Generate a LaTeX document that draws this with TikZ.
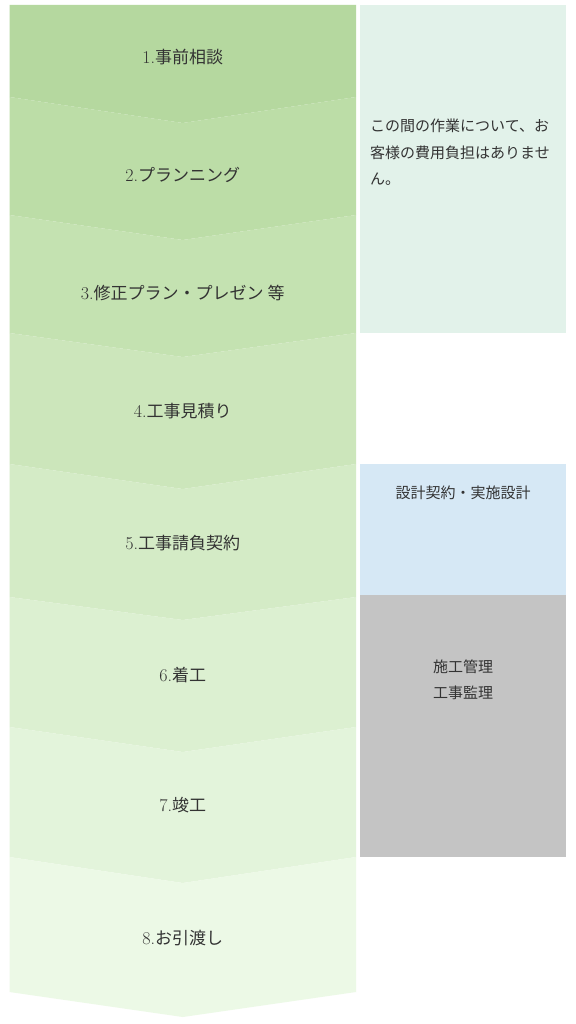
\documentclass[tikz,border=0pt]{standalone}
\usepackage{fontspec}
\newfontfamily\cjk{Noto Sans CJK JP}
\definecolor{txt}{HTML}{333333}
\definecolor{b1}{HTML}{B5D89F}
\definecolor{b2}{HTML}{BCDDA7}
\definecolor{b3}{HTML}{C4E2B1}
\definecolor{b4}{HTML}{CCE6BB}
\definecolor{b5}{HTML}{D4EBC6}
\definecolor{b6}{HTML}{DCF0D1}
\definecolor{b7}{HTML}{E3F4DB}
\definecolor{b8}{HTML}{ECF9E6}
\definecolor{p1}{HTML}{E2F2EA}
\definecolor{p2}{HTML}{D6E8F5}
\definecolor{p3}{HTML}{C4C4C4}
\begin{document}
\begin{tikzpicture}[x=1pt,y=-1pt,
  steplabel/.style={text=txt,font=\fontsize{17}{19}\selectfont,inner sep=0pt,anchor=center},
  paneltext/.style={text=txt,font=\cjk\fontsize{15}{26.5}\selectfont,inner sep=0pt}]
\useasboundingbox (0,0) rectangle (575,1024);
\fill[white] (0,0) rectangle (575,1024);
% bands: sides s_k, tips t_k
\def\L{9.5}\def\R{356}\def\C{182.75}
\fill[b1] (\L,5) -- (\R,5) -- (\R,97) -- (\C,123) -- (\L,97) -- cycle;
\fill[b2] (\L,97) -- (\C,123) -- (\R,97) -- (\R,215) -- (\C,240) -- (\L,215) -- cycle;
\fill[b3] (\L,215) -- (\C,240) -- (\R,215) -- (\R,333) -- (\C,357) -- (\L,333) -- cycle;
\fill[b4] (\L,333) -- (\C,357) -- (\R,333) -- (\R,464) -- (\C,489) -- (\L,464) -- cycle;
\fill[b5] (\L,464) -- (\C,489) -- (\R,464) -- (\R,597) -- (\C,620) -- (\L,597) -- cycle;
\fill[b6] (\L,597) -- (\C,620) -- (\R,597) -- (\R,727) -- (\C,752) -- (\L,727) -- cycle;
\fill[b7] (\L,727) -- (\C,752) -- (\R,727) -- (\R,857) -- (\C,883) -- (\L,857) -- cycle;
\fill[b8] (\L,857) -- (\C,883) -- (\R,857) -- (\R,992) -- (\C,1017) -- (\L,992) -- cycle;
% step labels
\node[steplabel] (s1) at (\C,57) {\fontsize{18}{19}\selectfont 1.{\cjk\fontsize{17}{19}\selectfont 事前相談}};
\node[steplabel] (s2) at (\C,175) {\fontsize{18}{19}\selectfont 2.{\cjk\fontsize{17}{19}\selectfont プランニング}};
\node[steplabel] (s3) at (\C,293) {\fontsize{18}{19}\selectfont 3.{\cjk\fontsize{17}{19}\selectfont 修正プラン・プレゼン 等}};
\node[steplabel] (s4) at (\C,411) {\fontsize{18}{19}\selectfont 4.{\cjk\fontsize{17}{19}\selectfont 工事見積り}};
\node[steplabel] (s5) at (\C,543) {\fontsize{18}{19}\selectfont 5.{\cjk\fontsize{17}{19}\selectfont 工事請負契約}};
\node[steplabel] (s6) at (\C,675) {\fontsize{18}{19}\selectfont 6.{\cjk\fontsize{17}{19}\selectfont 着工}};
\node[steplabel] (s7) at (\C,805) {\fontsize{18}{19}\selectfont 7.{\cjk\fontsize{17}{19}\selectfont 竣工}};
\node[steplabel] (s8) at (\C,938) {\fontsize{18}{19}\selectfont 8.{\cjk\fontsize{17}{19}\selectfont お引渡し}};
% right panels
\fill[p1] (359.5,5) rectangle (566,333);
\fill[p2] (359.5,464) rectangle (566,595);
\fill[p3] (359.5,595) rectangle (566,857);
\node[paneltext,anchor=north west,align=left] (n1) at (370,119)
  {この間の作業について、お\\客様の費用負担はありませ\\ん。};
\node[paneltext,anchor=center] (n2) at (463,493) {設計契約・実施設計};
\node[paneltext,anchor=center,align=center] (n3) at (463,680) {施工管理\\工事監理};
\end{tikzpicture}
\end{document}
